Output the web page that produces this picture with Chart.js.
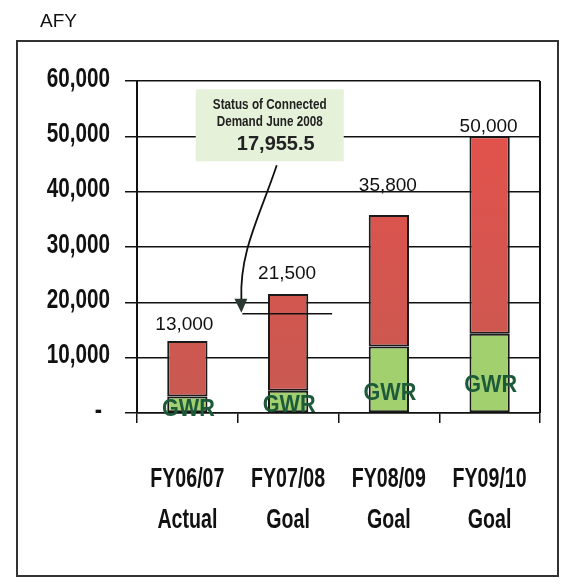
<!DOCTYPE html>
<html>
<head>
<meta charset="utf-8">
<script src="https://cdn.jsdelivr.net/npm/chart.js@4.4.1/dist/chart.umd.min.js"></script>
<style>
  html, body { margin: 0; padding: 0; background: #fff; }
  #wrap { position: relative; width: 563px; height: 587px; }
</style>
</head>
<body>
<div id="wrap"><canvas id="afyChart" width="563" height="587"></canvas></div>
<script>
// dados
const categorias = [["FY06/07", "Actual"], ["FY07/08", "Goal"], ["FY08/09", "Goal"], ["FY09/10", "Goal"]]
const gwrValores = [3000, 4000, 12000, 14300]
const outrosValores = [10000, 17500, 23800, 35700]
const totais = [13000, 21500, 35800, 50000]
const demandaConectada = 17955.5
const yTicks = [0, 10000, 20000, 30000, 40000, 50000, 60000]

const fonteArial = "'Liberation Sans', Arial, sans-serif"

// ajustes manuais de posição dos rótulos (px)
const elevacaoTotal = [16, 20, 29, 9]
const elevacaoGwr = [2, 6, 18, 26]

const fmt = (v) => v.toLocaleString("en-US")

// texto comprimido na horizontal (imita a fonte estreita do original)
const textoEstreito = (ctx, texto, x, y, fator) => {
  ctx.save()
  ctx.translate(x, y)
  ctx.scale(fator, 1)
  ctx.fillText(texto, 0, 0)
  ctx.restore()
}

const extrasPlugin = {
  id: "extras",
  beforeDraw(chart) {
    const ctx = chart.ctx
    ctx.save()
    ctx.fillStyle = "#fff"
    ctx.fillRect(0, 0, chart.width, chart.height)
    // moldura externa
    ctx.strokeStyle = "#333"
    ctx.lineWidth = 2
    ctx.strokeRect(17, 41, 541, 535)
    ctx.fillStyle = "#111"
    ctx.font = "19px " + fonteArial
    ctx.textBaseline = "middle"
    ctx.textAlign = "left"
    ctx.fillText("AFY", 40, 22)
    ctx.restore()
  },
  afterDatasetsDraw(chart) {
    const ctx = chart.ctx
    const x = chart.scales.x
    const y = chart.scales.y
    const area = chart.chartArea
    ctx.save()

    // borda direita da área
    ctx.strokeStyle = "#111"
    ctx.lineWidth = 2
    ctx.beginPath()
    ctx.moveTo(area.right, area.top)
    ctx.lineTo(area.right, area.bottom)
    ctx.stroke()

    // rótulos do eixo Y
    ctx.fillStyle = "#111"
    ctx.font = "bold 28px " + fonteArial
    ctx.textAlign = "right"
    ctx.textBaseline = "middle"
    y.ticks.forEach((t) => {
      const py = y.getPixelForValue(t.value) - 2
      if (t.value === 0) textoEstreito(ctx, "-", area.left - 35, py, 0.78)
      else textoEstreito(ctx, fmt(t.value), area.left - 27, py, 0.74)
    })

    // rótulos do eixo X (duas linhas)
    ctx.textAlign = "center"
    categorias.forEach((linhas, i) => {
      const px = x.getPixelForValue(i)
      linhas.forEach((l, j) => {
        textoEstreito(ctx, l, px, area.bottom + 66 + j * 41, 0.7)
      })
    })

    // rótulos dos totais
    ctx.font = "19px " + fonteArial
    ctx.textBaseline = "bottom"
    totais.forEach((t, i) => {
      const px = x.getPixelForValue(i) - (i === 0 ? 3 : 1)
      ctx.fillText(fmt(t), px, y.getPixelForValue(t) - elevacaoTotal[i] + 9)
    })

    // rótulos GWR
    ctx.font = "bold 24px " + fonteArial
    ctx.fillStyle = "#1c5a3a"
    ctx.textBaseline = "middle"
    gwrValores.forEach((g, i) => {
      textoEstreito(ctx, "GWR", x.getPixelForValue(i) + 1, y.getPixelForValue(0) - elevacaoGwr[i] - 2, 0.9)
    })

    // linha da demanda conectada
    const yDem = y.getPixelForValue(demandaConectada)
    const x0 = x.getPixelForValue(0)
    const x1 = x.getPixelForValue(1)
    ctx.strokeStyle = "#111"
    ctx.lineWidth = 1.5
    ctx.beginPath()
    ctx.moveTo(x0 + 55, yDem)
    ctx.lineTo(x1 + 44, yDem)
    ctx.stroke()

    // caixa de anotação
    const cx = (x0 + x1) / 2 + 32
    const topo = y.getPixelForValue(58500)
    const larg = 148
    const alt = 72
    ctx.fillStyle = "#e6f1da"
    ctx.fillRect(cx - larg / 2, topo, larg, alt)
    ctx.fillStyle = "#222"
    ctx.textAlign = "center"
    ctx.textBaseline = "middle"
    ctx.font = "bold 15px " + fonteArial
    textoEstreito(ctx, "Status of Connected", cx, topo + 16, 0.78)
    textoEstreito(ctx, "Demand June 2008", cx, topo + 33, 0.78)
    ctx.font = "bold 20px " + fonteArial
    ctx.fillText(fmt(demandaConectada), cx + 6, topo + 55)

    // seta curva
    const ax = x0 + 54
    ctx.strokeStyle = "#111"
    ctx.lineWidth = 1.8
    ctx.beginPath()
    ctx.moveTo(cx + 7, topo + alt + 4)
    ctx.bezierCurveTo(cx - 10, topo + alt + 55, ax - 2, topo + alt + 90, ax, yDem - 14)
    ctx.stroke()
    ctx.fillStyle = "#2a3a30"
    ctx.beginPath()
    ctx.moveTo(ax - 7, yDem - 15)
    ctx.lineTo(ax + 6, yDem - 15)
    ctx.lineTo(ax, yDem - 1)
    ctx.closePath()
    ctx.fill()

    ctx.restore()
  },
}

const gradienteVermelho = (context) => {
  const chart = context.chart
  const area = chart.chartArea
  if (!area) return "#d0534e"
  const g = chart.ctx.createLinearGradient(0, area.top, 0, area.bottom)
  g.addColorStop(0, "#e6504a")
  g.addColorStop(1, "#c75a52")
  return g
}

new Chart(document.getElementById("afyChart").getContext("2d"), {
  type: "bar",
  data: {
    labels: categorias,
    datasets: [
      {
        label: "GWR",
        data: gwrValores,
        backgroundColor: "#a3d06e",
        borderColor: "#1a1a1a",
        borderWidth: 2,
        borderSkipped: false,
      },
      {
        label: "Outros",
        data: outrosValores,
        backgroundColor: gradienteVermelho,
        borderColor: "#1a1a1a",
        borderWidth: 2,
        borderSkipped: false,
      },
    ],
  },
  options: {
    responsive: false,
    animation: false,
    layout: { padding: { left: 0, top: 81, right: 23, bottom: 0 } },
    datasets: { bar: { barPercentage: 0.4, categoryPercentage: 1 } },
    plugins: {
      legend: { display: false },
      tooltip: { enabled: false },
    },
    scales: {
      x: {
        stacked: true,
        afterFit: (scale) => { scale.height = 174 },
        grid: {
          display: true,
          drawOnChartArea: false,
          drawTicks: true,
          tickLength: 10,
          offset: true,
          color: "#111",
          lineWidth: 1.5,
        },
        border: { display: true, color: "#111", width: 1.5 },
        // rótulos desenhados pelo plugin (fonte estreita)
        ticks: { display: false, autoSkip: false },
      },
      y: {
        stacked: true,
        min: 0,
        max: 60000,
        afterFit: (scale) => { scale.width = 137 },
        afterBuildTicks: (scale) => {
          scale.ticks = yTicks.map((v) => ({ value: v }))
        },
        grid: {
          color: "#111",
          lineWidth: 1.5,
          tickLength: 12,
          drawTicks: true,
        },
        border: { display: true, color: "#111", width: 2 },
        ticks: { display: false },
      },
    },
  },
  plugins: [extrasPlugin],
})
</script>
</body>
</html>
